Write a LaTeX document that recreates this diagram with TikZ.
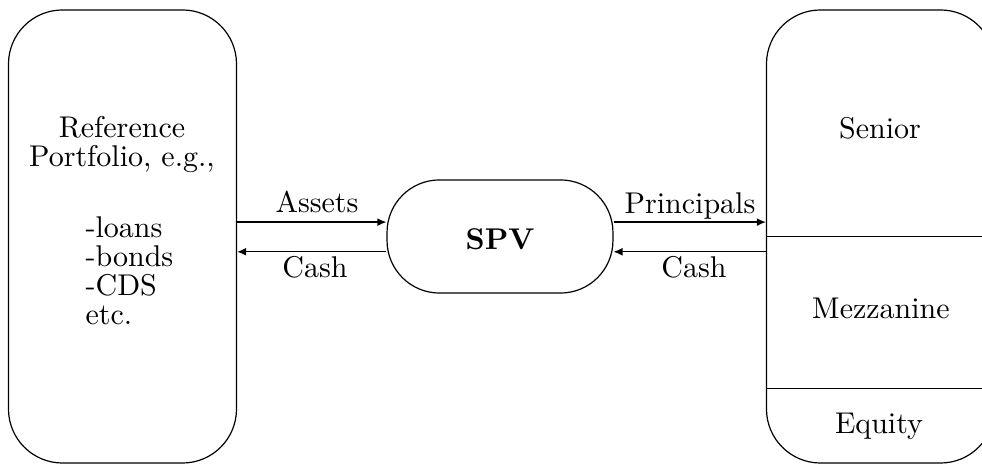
\documentclass[tikz,border=0pt]{standalone}
\usetikzlibrary{arrows.meta}
\begin{document}
\begin{tikzpicture}[x=0.3333pt,y=-0.3333pt,
  box/.style={draw,line width=0.4pt,inner sep=0pt},
  arr/.style={-{Latex[length=3pt,width=2.6pt]},line width=0.4pt},
  txt/.style={anchor=base,inner sep=0pt,font=\fontsize{10}{9.7}\selectfont},
  lbl/.style={anchor=base,inner sep=0pt}]
\useasboundingbox (0,0) rectangle (982,464);
% boxes
\node[box,rounded corners=18pt,minimum width=76pt,minimum height=151pt] (L) at (122.5,236.5) {};
\node[box,rounded corners=17.5pt,minimum width=75.3pt,minimum height=37.7pt] (S) at (500,236.5) {};
\node[box,rounded corners=18pt,minimum width=76pt,minimum height=151pt] (R) at (880.5,236.5) {};
% tranche dividers
\draw (R.west) -- (R.east);
\draw ([yshift=-50.6pt]R.west) -- ([yshift=-50.6pt]R.east);
% texts
\node[txt,align=center] (reft) at (122,167) {Reference\\Portfolio, e.g.,};
\node[txt,align=left,anchor=base west] (list) at (85,325) {-loans\\-bonds\\-CDS\\etc.};
\node[lbl] (spv) at (500,250) {\textbf{SPV}};
\node[lbl] (sen) at (880,139) {Senior};
\node[lbl] (mez) at (881,319) {Mezzanine};
\node[lbl] (eq) at (879,434) {Equity};
% arrows
\draw[arr] ([yshift=4.8pt]L.east) -- ([yshift=4.8pt]S.west);
\draw[arr] ([yshift=-5.1pt]S.west) -- ([yshift=-5.1pt]L.east);
\draw[arr] ([yshift=4.8pt]S.east) -- ([yshift=4.8pt]R.west);
\draw[arr] ([yshift=-5.1pt]R.west) -- ([yshift=-5.1pt]S.east);
% arrow labels
\node[lbl] (assets) at (317,213) {Assets};
\node[lbl] (cashl) at (315,278) {Cash};
\node[lbl] (princ) at (690,214) {Principals};
\node[lbl] (cashr) at (694,278) {Cash};
\end{tikzpicture}
\end{document}
